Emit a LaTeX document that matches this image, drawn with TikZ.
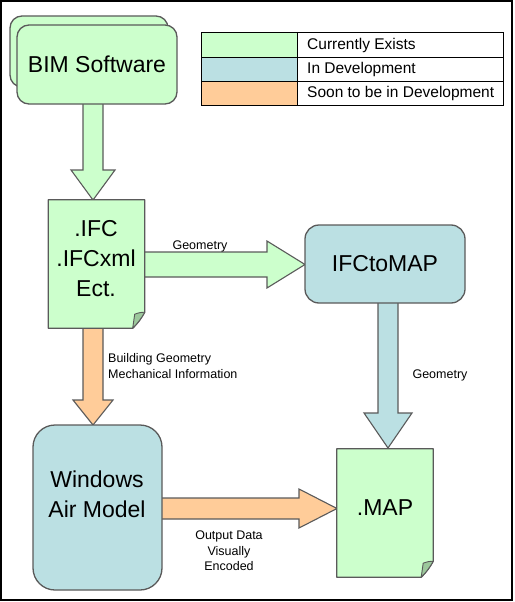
\documentclass[tikz,border=0pt]{standalone}
\usepackage{fontspec}
\setmainfont{Liberation Sans}
\usetikzlibrary{calc}
\definecolor{cgreen}{HTML}{CCFFCC}
\definecolor{cblue}{HTML}{BBE0E3}
\definecolor{corange}{HTML}{FFCC99}
\definecolor{cfold}{HTML}{9CC89C}
\definecolor{cline}{HTML}{5A5A5A}
\tikzset{
  shapeline/.style={draw=cline, line width=1.3pt},
  arrowline/.style={draw=cline, line width=1.1pt, line join=miter},
  big/.style={font=\fontsize{23}{30}\selectfont, align=center, inner sep=0pt},
  small/.style={font=\fontsize{12.5}{15.5}\selectfont, inner sep=0pt},
  leg/.style={font=\fontsize{15.5}{18}\selectfont, anchor=west, inner sep=0pt},
  docnode/.style={minimum width=96pt, minimum height=128pt, inner sep=0pt},
}
% vertical block arrow (downwards): start, end, shaft half, head half, head length, fill
\newcommand\varrow[6]{%
  \draw[arrowline,fill=#6] let \p1=(#1),\p2=(#2) in
   (\x1-#3pt,\y1) -- (\x1+#3pt,\y1) -- (\x1+#3pt,\y2+#5pt) -- (\x1+#4pt,\y2+#5pt)
   -- (\x2,\y2) -- (\x1-#4pt,\y2+#5pt) -- (\x1-#3pt,\y2+#5pt) -- cycle;}
% horizontal block arrow (rightwards)
\newcommand\harrow[6]{%
  \draw[arrowline,fill=#6] let \p1=(#1),\p2=(#2) in
   (\x1,\y1+#3pt) -- (\x2-#5pt,\y1+#3pt) -- (\x2-#5pt,\y1+#4pt) -- (\x2,\y2)
   -- (\x2-#5pt,\y1-#4pt) -- (\x2-#5pt,\y1-#3pt) -- (\x1,\y1-#3pt) -- cycle;}
\begin{document}
\begin{tikzpicture}[x=1pt,y=-1pt]
\useasboundingbox (0,0) rectangle (514,602);
\draw[line width=2pt] (1,1) rectangle (512,600);

% ---------- arrows (drawn first, shapes cover their back ends)
\coordinate (a1s) at (93,100);   \coordinate (a1e) at (93,200);
\coordinate (a2s) at (140,264.5); \coordinate (a2e) at (305,264.5);
\coordinate (a3s) at (93,324);   \coordinate (a3e) at (93,425);
\coordinate (a4s) at (388,298);  \coordinate (a4e) at (388,448);
\coordinate (a5s) at (156,508.5); \coordinate (a5e) at (337,508.5);
\varrow{a1s}{a1e}{10}{22}{30}{cgreen}
\harrow{a2s}{a2e}{12.5}{23.5}{38}{cgreen}
\varrow{a3s}{a3e}{10}{20}{25}{corange}
\varrow{a4s}{a4e}{10}{24}{35}{cblue}
\harrow{a5s}{a5e}{10.5}{19.5}{38}{corange}

% ---------- BIM Software (stacked)
\node[shapeline, fill=cgreen, rounded corners=12pt, minimum width=158pt, minimum height=71pt] (bimback) at (89,51.5) {};
\node[shapeline, fill=cgreen, rounded corners=12pt, minimum width=160pt, minimum height=79pt, big] (bim) at (97,64.5) {BIM Software};

% ---------- .IFC document
\node[docnode] (ifc) at (96.5,264) {};
\draw[shapeline, fill=cgreen, line join=round] (ifc.north west) -- (ifc.north east) -- ($(ifc.south east)+(0,-16)$)
  to[bend left=8] ($(ifc.south east)+(-12,0)$) -- (ifc.south west) -- cycle;
\draw[arrowline, fill=cfold, line width=0.9pt, line join=round] ($(ifc.south east)+(-12,0)$) -- ($(ifc.south east)+(-10,-14)$)
  to[bend left=10] ($(ifc.south east)+(0,-16)$) to[bend left=8] cycle;
\node[big] (ifct) at (96,259) {.IFC\\.IFCxml\\Ect.};

% ---------- IFCtoMAP
\node[shapeline, fill=cblue, rounded corners=14pt, minimum width=160pt, minimum height=78pt, big] (i2m) at (385,264) {IFCtoMAP};

% ---------- Windows Air Model
\node[shapeline, fill=cblue, rounded corners=22pt, minimum width=129pt, minimum height=165pt] (win) at (97.5,507.5) {};
\node[big] (wint) at (97,494) {Windows\\Air Model};

% ---------- .MAP document
\node[docnode] (map) at (385,513) {};
\draw[shapeline, fill=cgreen, line join=round] (map.north west) -- (map.north east) -- ($(map.south east)+(0,-16)$)
  to[bend left=8] ($(map.south east)+(-12,0)$) -- (map.south west) -- cycle;
\draw[arrowline, fill=cfold, line width=0.9pt, line join=round] ($(map.south east)+(-12,0)$) -- ($(map.south east)+(-10,-14)$)
  to[bend left=10] ($(map.south east)+(0,-16)$) to[bend left=8] cycle;
\node[big] (mapt) at (385,508) {.MAP};

% ---------- arrow labels
\node[small] (lg1) at (200,246) {Geometry};
\node[small, align=left, anchor=west] (lg2) at (108,366) {Building Geometry\\Mechanical Information};
\node[small] (lg3) at (440,375) {Geometry};
\node[small, align=center] (lg4) at (229,551) {Output Data\\Visually\\Encoded};

% ---------- legend
\fill[cgreen] (201,32) rectangle (297,57);
\fill[cblue] (201,57) rectangle (297,81);
\fill[corange] (201,81) rectangle (297,105);
\draw[line width=0.9pt] (201,32) rectangle (503,105);
\draw[line width=0.9pt] (297,32) -- (297,105) (201,57) -- (503,57) (201,81) -- (503,81);
\node[leg] (k1) at (307,45) {Currently Exists};
\node[leg] (k2) at (307,69) {In Development};
\node[leg] (k3) at (307,93) {Soon to be in Development};
\end{tikzpicture}
\end{document}
